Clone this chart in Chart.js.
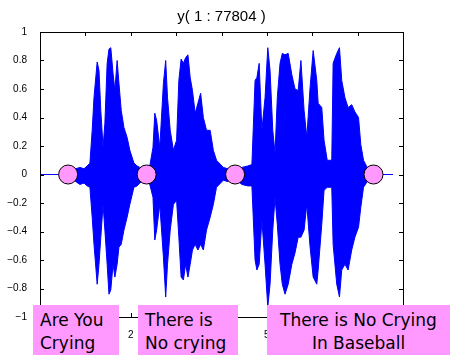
<!DOCTYPE html>
<html>
<head>
<meta charset="utf-8">
<script src="https://cdn.jsdelivr.net/npm/chart.js@4/dist/chart.umd.min.js"></script>
<style>
  html, body { margin: 0; padding: 0; background: #fff; }
  #wrap { position: relative; width: 452px; height: 355px; overflow: hidden; }
  canvas { position: absolute; left: 0; top: 0; }
  .lbl { position: absolute; top: 305px; height: 50px; background: #ff99ff;
         font-family: "DejaVu Sans", sans-serif; font-size: 17px; line-height: 23px;
         color: #000; box-sizing: border-box; padding-top: 4px; white-space: nowrap; }
</style>
</head>
<body>
<div id="wrap">
  <canvas id="c" width="452" height="355"></canvas>
  <div class="lbl" style="left:33px;width:86px;padding-left:7px;">Are You<br>Crying</div>
  <div class="lbl" style="left:138px;width:100px;padding-left:7px;">There is<br>No crying</div>
  <div class="lbl" style="left:267px;width:183px;text-align:center;">There is No Crying<br>In Baseball</div>
</div>
<script>
// ---- data ----
const titleText = 'y( 1 : 77804 )';
// waveform envelope (sample index, upper value, lower value)
const envX = [0, 5700, 6600, 7900, 8800, 9700, 10400, 11000, 11500, 11900, 12600, 13000, 13400, 13900, 14300, 14800, 15200, 15600, 16100, 16500, 17000, 17400, 17900, 18500, 19200, 19800, 20700, 21400, 22000, 22900, 24200, 24900, 25300, 25700, 26400, 27200, 27700, 28100, 28700, 29400, 30100, 30600, 31100, 31600, 32100, 32600, 33100, 33600, 34200, 34800, 35400, 36000, 36700, 37500, 38200, 38900, 40400, 41400, 43000, 44500, 45800, 46700, 47400, 47800, 48300, 48900, 49600, 50200, 50700, 51300, 51800, 52300, 52900, 53400, 54000, 54700, 55500, 56200, 56900, 57500, 58200, 58800, 59500, 60200, 61000, 61300, 62100, 62600, 63300, 64300, 64600, 65400, 66000, 66500, 67200, 67900, 68700, 69400, 70200, 70700, 71300, 72100, 73400, 77804];
const envHi = [0, 0, 0.02, 0.04, 0.05, 0.04, 0.06, 0.08, 0.31, 0.54, 0.79, 0.73, 0.45, 0.19, 0.36, 0.78, 0.88, 0.89, 0.71, 0.59, 0.80, 0.64, 0.45, 0.33, 0.26, 0.17, 0.08, 0.06, 0.05, 0.04, 0.06, 0.19, 0.43, 0.38, 0.19, 0.64, 0.80, 0.54, 0.31, 0.17, 0.24, 0.66, 0.81, 0.78, 0.82, 0.84, 0.68, 0.59, 0.43, 0.50, 0.57, 0.40, 0.31, 0.31, 0.17, 0.10, 0.05, 0.04, 0.03, 0.05, 0.06, 0.07, 0.66, 0.68, 0.78, 0.31, 0.54, 0.89, 0.73, 0.31, 0.15, 0.54, 0.78, 0.85, 0.84, 0.85, 0.70, 0.60, 0.59, 0.80, 0.45, 0.26, 0.60, 0.87, 0.66, 0.50, 0.47, 0.24, 0.10, 0.10, 0.78, 0.85, 0.89, 0.66, 0.54, 0.47, 0.49, 0.44, 0.40, 0.21, 0.10, 0.05, 0, 0];
const envLo = [0, 0, -0.02, -0.05, -0.07, -0.06, -0.08, -0.09, -0.30, -0.49, -0.77, -0.63, -0.44, -0.21, -0.39, -0.63, -0.84, -0.81, -0.63, -0.72, -0.63, -0.51, -0.49, -0.39, -0.30, -0.21, -0.09, -0.08, -0.06, -0.04, -0.07, -0.16, -0.46, -0.39, -0.21, -0.58, -0.86, -0.63, -0.39, -0.21, -0.18, -0.44, -0.72, -0.74, -0.63, -0.72, -0.63, -0.53, -0.49, -0.53, -0.49, -0.53, -0.39, -0.30, -0.21, -0.09, -0.04, -0.05, -0.03, -0.07, -0.08, -0.08, -0.60, -0.67, -0.63, -0.32, -0.63, -0.93, -0.77, -0.39, -0.16, -0.35, -0.63, -0.77, -0.84, -0.77, -0.63, -0.55, -0.44, -0.44, -0.39, -0.21, -0.50, -0.72, -0.77, -0.67, -0.35, -0.11, -0.09, -0.09, -0.49, -0.77, -0.86, -0.67, -0.63, -0.67, -0.53, -0.44, -0.37, -0.23, -0.09, -0.05, 0, 0];
// segment boundary markers
const markerX = [6200, 23500, 43000, 73500];
const markerY = [0, 0, 0, 0];
// axes
const xMin = 0, xMax = 80000, xStep = 10000;
const yMin = -1, yMax = 1, yStep = 0.2;

const hiPts = envX.map((x, i) => ({x, y: envHi[i]}));
const loPts = envX.map((x, i) => ({x, y: envLo[i]}));
const mkPts = markerX.map((x, i) => ({x, y: markerY[i]}));

function fmt(v) {
  const r = Math.round(v * 10) / 10;
  return r < 0 ? '\u2212' + String(Math.abs(r)) : String(r);
}

const boxPlugin = {
  id: 'boxTicks',
  afterDraw(chart) {
    const {ctx, chartArea: a, scales: {x, y}} = chart;
    ctx.save();
    ctx.strokeStyle = '#000';
    ctx.lineWidth = 1;
    ctx.beginPath();
    ctx.rect(Math.round(a.left) + 0.5, Math.round(a.top) + 0.5, Math.round(a.right - a.left), Math.round(a.bottom - a.top));
    const L = 4;
    x.ticks.forEach(t => {
      const px = Math.round(x.getPixelForValue(t.value)) + 0.5;
      ctx.moveTo(px, a.top); ctx.lineTo(px, a.top + L);
      ctx.moveTo(px, a.bottom); ctx.lineTo(px, a.bottom - L);
    });
    y.ticks.forEach(t => {
      const py = Math.round(y.getPixelForValue(t.value)) + 0.5;
      ctx.moveTo(a.left, py); ctx.lineTo(a.left + L, py);
      ctx.moveTo(a.right, py); ctx.lineTo(a.right - L, py);
    });
    ctx.stroke();
    // title centred over the axes box
    ctx.fillStyle = '#000';
    ctx.font = '15px "Liberation Sans", Arial, sans-serif';
    ctx.textAlign = 'center';
    ctx.textBaseline = 'middle';
    ctx.fillText(titleText, (a.left + a.right) / 2, a.top - 15);
    ctx.restore();
  }
};

new Chart(document.getElementById('c'), {
  type: 'line',
  data: {
    datasets: [
      { type: 'scatter', data: mkPts, order: 0, pointRadius: 9.5, pointHoverRadius: 9.5,
        pointBackgroundColor: '#ff99ff', pointBorderColor: '#000', pointBorderWidth: 1, showLine: false },
      { data: hiPts, order: 1, borderColor: '#0000ff', borderWidth: 1, pointRadius: 0, tension: 0,
        fill: '+1', backgroundColor: '#0000ff' },
      { data: loPts, order: 2, borderColor: '#0000ff', borderWidth: 1, pointRadius: 0, tension: 0, fill: false }
    ]
  },
  options: {
    responsive: false,
    animation: false,
    events: [],
    layout: { padding: { left: 0, right: 49, top: 32, bottom: 0 } },
    plugins: {
      legend: { display: false },
      tooltip: { enabled: false },
      title: { display: false }
    },
    scales: {
      x: { type: 'linear', min: xMin, max: xMax,
           grid: { display: false }, border: { display: false },
           ticks: { stepSize: xStep, color: '#000', padding: 4, maxRotation: 0,
                    font: { family: '"Liberation Sans", Arial, sans-serif', size: 10 },
                    callback: v => String(v / 10000) },
           afterFit: s => { s.height = 38; } },
      y: { type: 'linear', min: yMin, max: yMax,
           grid: { display: false }, border: { display: false },
           ticks: { stepSize: yStep, color: '#000', padding: 5,
                    font: { family: '"Liberation Sans", Arial, sans-serif', size: 10 },
                    callback: v => fmt(v) },
           afterFit: s => { s.width = 40; } }
    }
  },
  plugins: [boxPlugin]
});
</script>
</body>
</html>
